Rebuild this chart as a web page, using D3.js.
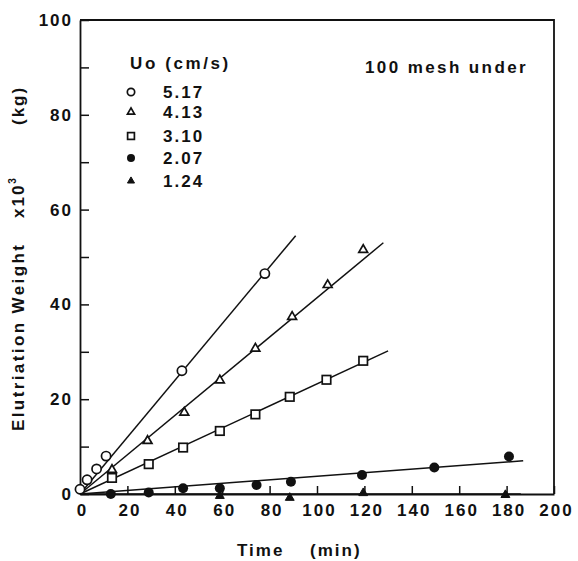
<!DOCTYPE html>
<html>
<head>
<meta charset="utf-8">
<script src="https://cdn.jsdelivr.net/npm/d3@7"></script>
<style>
  body { margin: 0; background: #fff; }
  svg text { font-family: "Liberation Sans", Arial, sans-serif; font-weight: bold; fill: #111; letter-spacing: 2px; }
</style>
</head>
<body>
<svg></svg>
<script>
// superficial velocity Uo (cm/s) of each run
const speeds = ['5.17', '4.13', '3.10', '2.07', '1.24'];
const symbols = ['circleOpen', 'triangleOpen', 'squareOpen', 'circleFilled', 'triangleFilled'];

// time (min) and elutriation weight (kg x10^3)
const time517 = [0, 3, 7, 11, 43, 78];
const weight517 = [1, 3, 5.3, 8, 26, 46.5];
const time413 = [13.5, 28.5, 44, 59, 74, 89.5, 104.5, 119.5];
const weight413 = [5.1, 11.2, 17.2, 24, 30.7, 37.4, 44.1, 51.5];
const time310 = [13.5, 29, 43.5, 59, 74, 88.5, 104, 119.5];
const weight310 = [3.4, 6.3, 9.8, 13.3, 16.8, 20.5, 24.1, 28.1];
const time207 = [13, 29, 43.5, 59, 74.5, 89, 119, 149.5, 181];
const weight207 = [0, 0.3, 1.2, 1.2, 1.9, 2.6, 4, 5.6, 7.9];
const time124 = [59, 88.5, 119.5, 179.5];
const weight124 = [-0.4, -0.8, 0.2, -0.2];

// straight fitted lines, each drawn from the origin to its end point
const fitEndTime = [91, 128, 130, 187, 186];
const fitEndWeight = [54.5, 53, 30.2, 7, 0];

const xTicks = [0, 20, 40, 60, 80, 100, 120, 140, 160, 180, 200];
const yTicks = [0, 10, 20, 30, 40, 50, 60, 70, 80, 90, 100];

let width = 578;
let height = 561;

let svg = d3.select('svg')
  .attr('width', width)
  .attr('height', height);

let xScale = d3.scaleLinear().domain([0, 200]).range([80, 554]);
let yScale = d3.scaleLinear().domain([0, 100]).range([494, 20]);

let series = [
  {t: time517, w: weight517},
  {t: time413, w: weight413},
  {t: time310, w: weight310},
  {t: time207, w: weight207},
  {t: time124, w: weight124}
];

let drawMarker = (g, kind, scale) => {
  let stroke = '#111';
  if (kind === 'circleOpen') {
    g.append('circle').attr('r', 4.6 * scale).attr('fill', '#fff').attr('stroke', stroke).attr('stroke-width', 1.7);
  } else if (kind === 'circleFilled') {
    g.append('circle').attr('r', 5 * scale).attr('fill', stroke);
  } else if (kind === 'squareOpen') {
    let s = 8.5 * scale;
    g.append('rect').attr('x', -s / 2).attr('y', -s / 2).attr('width', s).attr('height', s)
      .attr('fill', '#fff').attr('stroke', stroke).attr('stroke-width', 1.7);
  } else {
    let filled = kind === 'triangleFilled';
    g.append('path')
      .attr('d', d3.symbol().type(d3.symbolTriangle).size(34 * scale * scale)())
      .attr('fill', filled ? stroke : '#fff')
      .attr('stroke', stroke)
      .attr('stroke-width', filled ? 1 : 1.7);
  }
};

let generateAxes = () => {
  let xAxis = d3.axisBottom(xScale)
    .tickValues(xTicks)
    .tickSizeInner(-8)
    .tickSizeOuter(0)
    .tickPadding(10);

  let yAxis = d3.axisLeft(yScale)
    .tickValues(yTicks)
    .tickFormat(d => d % 20 === 0 ? d : '')
    .tickSizeInner(-9)
    .tickSizeOuter(0)
    .tickPadding(7);

  let gx = svg.append('g')
    .attr('transform', 'translate(0,' + yScale(0) + ')')
    .call(xAxis);

  let gy = svg.append('g')
    .attr('transform', 'translate(' + xScale(0) + ',0)')
    .call(yAxis);

  [gx, gy].forEach(g => {
    g.select('.domain').attr('stroke', '#111').attr('stroke-width', 1.8);
    g.selectAll('.tick line').attr('stroke', '#111').attr('stroke-width', 1.5);
    g.selectAll('.tick text').attr('font-size', 17).attr('fill', '#111')
      .style('font-family', '"Liberation Sans", Arial, sans-serif');
  });
  gx.selectAll('.tick text').attr('dx', 2);

  // top and right edges of the frame
  svg.append('path')
    .attr('d', d3.line()([[xScale(0), yScale(100)], [xScale(200), yScale(100)], [xScale(200), yScale(0)]]))
    .attr('fill', 'none')
    .attr('stroke', '#111')
    .attr('stroke-width', 1.8);
};

let drawLines = () => {
  svg.append('g')
    .selectAll('line')
    .data(fitEndTime)
    .enter()
    .append('line')
    .attr('x1', xScale(0))
    .attr('y1', yScale(0))
    .attr('x2', (d) => xScale(d))
    .attr('y2', (d, i) => yScale(fitEndWeight[i]))
    .attr('stroke', '#111')
    .attr('stroke-width', 1.5);
};

let drawPoints = () => {
  series.forEach((s, i) => {
    s.t.forEach((t, j) => {
      let g = svg.append('g')
        .attr('transform', 'translate(' + xScale(t) + ',' + yScale(s.w[j]) + ')');
      drawMarker(g, symbols[i], 1);
    });
  });
};

let drawLegend = () => {
  svg.append('text')
    .attr('x', 130)
    .attr('y', 69)
    .attr('font-size', 17)
    .style('letter-spacing', '2.6px')
    .text('Uo (cm/s)');

  let legendY = [92, 112, 136, 158, 181];

  speeds.forEach((sp, i) => {
    let g = svg.append('g').attr('transform', 'translate(131,' + legendY[i] + ')');
    drawMarker(g, symbols[i], 0.8);
    svg.append('text')
      .attr('x', 163)
      .attr('y', legendY[i] + 6)
      .attr('font-size', 17)
      .text(sp);
  });

  svg.append('text')
    .attr('x', 365)
    .attr('y', 73)
    .attr('font-size', 17)
    .style('letter-spacing', '2.4px')
    .text('100 mesh under');
};

let drawTitles = () => {
  svg.append('text')
    .attr('x', 237)
    .attr('y', 556)
    .attr('font-size', 17)
    .text('Time');

  svg.append('text')
    .attr('x', 310)
    .attr('y', 556)
    .attr('font-size', 17)
    .text('(min)');

  let yl = svg.append('g').attr('transform', 'translate(24,0) rotate(-90)');
  yl.append('text')
    .attr('x', -431)
    .attr('y', 0)
    .attr('font-size', 17)
    .style('letter-spacing', '2.4px')
    .text('Elutriation Weight');

  let xt = yl.append('text')
    .attr('x', -218)
    .attr('y', 0)
    .attr('font-size', 17);
  xt.append('tspan').text('x10');
  xt.append('tspan').attr('font-size', 10).attr('dy', -8).text('3');

  yl.append('text')
    .attr('x', -125)
    .attr('y', 0)
    .attr('font-size', 17)
    .text('(kg)');
};

generateAxes();
drawLines();
drawPoints();
drawLegend();
drawTitles();
</script>
</body>
</html>
